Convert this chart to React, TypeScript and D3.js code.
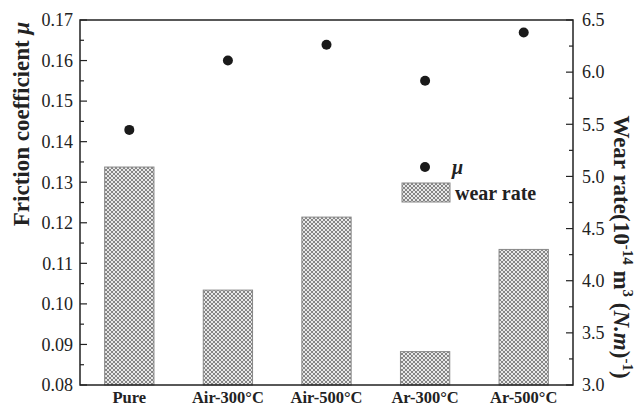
import React from "react";
import * as d3 from "d3";

// samples on the x axis
const categories = ["Pure", "Air-300°C", "Air-500°C", "Ar-300°C", "Ar-500°C"];
// friction coefficient (left axis, dots)
const frictionMu = [0.1429, 0.16, 0.1639, 0.155, 0.1669];
// wear rate, 10^-14 m^3/(N.m) (right axis, bars)
const wearRate = [5.09, 3.91, 4.61, 3.32, 4.3];

const leftTicks = [0.08, 0.09, 0.1, 0.11, 0.12, 0.13, 0.14, 0.15, 0.16, 0.17];
const rightTicks = [3.0, 3.5, 4.0, 4.5, 5.0, 5.5, 6.0, 6.5];

const W = 636;
const H = 407;
const margin = { top: 20, right: 63, bottom: 22, left: 80 };
const font = "'Liberation Serif', 'Times New Roman', serif";

export default function App() {
  const x0 = margin.left;
  const x1 = W - margin.right;
  const y0 = H - margin.bottom;
  const y1 = margin.top;

  const x = d3.scaleBand().domain(categories).range([x0, x1]).paddingInner(0.5).paddingOuter(0.25);
  const yL = d3.scaleLinear().domain([0.08, 0.17]).range([y0, y1]);
  const yR = d3.scaleLinear().domain([3.0, 6.5]).range([y0, y1]);

  const leftMinor = d3.range(0.085, 0.17, 0.01);
  const rightMinor = d3.range(3.25, 6.5, 0.5);

  return (
    <svg width={W} height={H} style={{ position: "absolute", left: 0, top: 0, background: "#fff" }} fontFamily={font}>
      <defs>
        <pattern id="hatch" width="4" height="4" patternUnits="userSpaceOnUse">
          <rect width="4" height="4" fill="#e8e8e8" />
          <path d="M0,0 L4,4 M4,0 L0,4" stroke="#5a5a5a" strokeWidth="0.7" />
        </pattern>
      </defs>

      {/* bars */}
      {categories.map((c, i) => (
        <rect
          key={c}
          x={x(c)}
          y={yR(wearRate[i])}
          width={x.bandwidth()}
          height={y0 - yR(wearRate[i])}
          fill="url(#hatch)"
          stroke="#888"
          strokeWidth={1}
        />
      ))}

      {/* dots */}
      {categories.map((c, i) => (
        <circle key={c} cx={x(c)! + x.bandwidth() / 2} cy={yL(frictionMu[i])} r={5} fill="#1a1a1a" />
      ))}

      {/* frame */}
      <rect x={x0} y={y1} width={x1 - x0} height={y0 - y1} fill="none" stroke="#222" strokeWidth={1.5} />

      {/* left axis */}
      {leftTicks.map((t) => (
        <g key={t}>
          <line x1={x0} x2={x0 + 7} y1={yL(t)} y2={yL(t)} stroke="#222" strokeWidth={1.2} />
          <text x={x0 - 7} y={yL(t)} dy="0.35em" textAnchor="end" fontSize={18} fill="#222">
            {t.toFixed(2)}
          </text>
        </g>
      ))}
      {leftMinor.map((t) => (
        <line key={t} x1={x0} x2={x0 + 4} y1={yL(t)} y2={yL(t)} stroke="#222" strokeWidth={1.2} />
      ))}

      {/* right axis */}
      {rightTicks.map((t) => (
        <g key={t}>
          <line x1={x1} x2={x1 - 7} y1={yR(t)} y2={yR(t)} stroke="#222" strokeWidth={1.2} />
          <text x={x1 + 9} y={yR(t)} dy="0.35em" textAnchor="start" fontSize={18} fill="#222">
            {t.toFixed(1)}
          </text>
        </g>
      ))}
      {rightMinor.map((t) => (
        <line key={t} x1={x1} x2={x1 - 4} y1={yR(t)} y2={yR(t)} stroke="#222" strokeWidth={1.2} />
      ))}

      {/* x labels */}
      {categories.map((c) => (
        <text key={c} x={x(c)! + x.bandwidth() / 2} y={y0 + 18} textAnchor="middle" fontSize={16.5} fontWeight="bold" fill="#222">
          {c}
        </text>
      ))}

      {/* axis titles */}
      <text transform={`translate(29,124) rotate(-90)`} textAnchor="middle" fontSize={23} fontWeight="bold" fill="#222">
        Friction coefficient <tspan fontStyle="italic">μ</tspan>
      </text>
      <text transform={`translate(614,247) rotate(90)`} textAnchor="middle" fontSize={23} fontWeight="bold" fill="#222">
        Wear rate(10<tspan fontSize={15} dy={-9}>-14</tspan>
        <tspan dy={9}> m</tspan>
        <tspan fontSize={15} dy={-9}>3</tspan>
        <tspan dy={9}> (</tspan>
        <tspan fontStyle="italic">N.m</tspan>
        <tspan>)</tspan>
        <tspan fontSize={15} dy={-9}>-1</tspan>
        <tspan dy={9}>)</tspan>
      </text>

      {/* legend */}
      <circle cx={425} cy={167} r={5} fill="#1a1a1a" />
      <text x={452} y={174} fontSize={20} fontWeight="bold" fontStyle="italic" fill="#222">μ</text>
      <rect x={402} y={183} width={48} height={19} fill="url(#hatch)" stroke="#888" strokeWidth={1} />
      <text x={455} y={200} fontSize={20} fontWeight="bold" fill="#222">wear rate</text>
    </svg>
  );
}
